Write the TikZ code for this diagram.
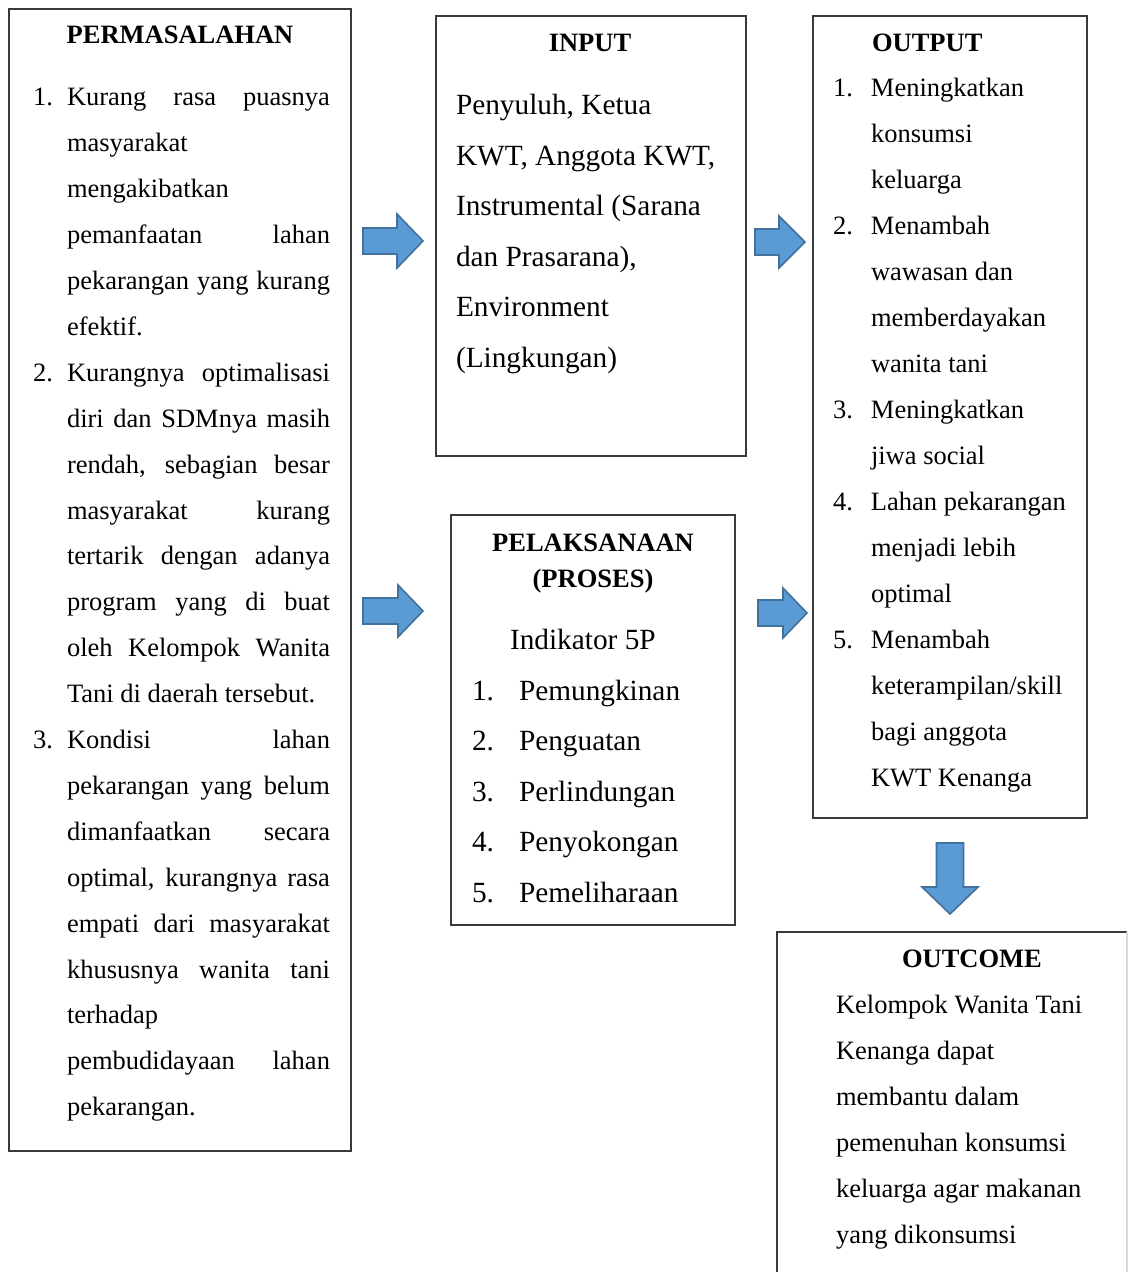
\documentclass[tikz,border=0pt]{standalone}
\usepackage{fontspec}
\setmainfont{Liberation Serif}
\newlength\PX \setlength\PX{0.5pt}
\newcommand\fs{\fontsize{13.25pt}{22.95pt}\selectfont}
\newcommand\fl{\fontsize{14.65pt}{25.25pt}\selectfont}
\newcommand\J[1]{\makebox[263\PX][s]{#1}}
\newcommand\Nm[2]{\makebox[#1\PX][l]{#2}}
\newcommand\Ind[1]{\hspace*{#1\PX}}
\definecolor{afill}{HTML}{5B9BD5}
\definecolor{aline}{HTML}{41719C}
\definecolor{bline}{HTML}{3A3A3A}
\newcommand\rarr[6]{%
  \filldraw[barrow] (#1,#4-#5) -- (#2,#4-#5) -- (#2,#4-#6) -- (#3,#4) -- (#2,#4+#6) -- (#2,#4+#5) -- (#1,#4+#5) -- cycle;}
\begin{document}
\begin{tikzpicture}[x=0.5pt,y=-0.5pt,
  box/.style={draw=bline, line width=0.75pt, inner sep=0pt, outer sep=0pt, anchor=north west, rectangle},
  txt/.style={inner sep=0pt, outer sep=0pt, anchor=base west},
  ttl/.style={inner sep=0pt, outer sep=0pt, anchor=base, font=\fs\bfseries},
  barrow/.style={fill=afill, draw=aline, line width=0.8pt, line join=miter}]
\fill[white] (0,0) rectangle (1128,1272);
\clip[use as bounding box] (0,0) rectangle (1128,1272);

% boxes
\node[box, minimum width=171pt, minimum height=571pt] (perm) at (9,9) {};
\node[box, minimum width=155pt, minimum height=220pt] (input) at (436,16) {};
\node[box, minimum width=137pt, minimum height=401pt] (output) at (813,16) {};
\node[box, minimum width=142pt, minimum height=205pt] (pel) at (451,515) {};
\node[inner sep=0pt, outer sep=0pt, anchor=north west, minimum width=175pt, minimum height=234pt] (outcome) at (777,932) {};
\draw[bline, line width=0.75pt] (outcome.south west) -- (outcome.north west) -- (outcome.north east);
\draw[black!15, line width=0.75pt] (outcome.north east) -- (outcome.south east);

% PERMASALAHAN
\node[ttl] (permtitle) at (180,44) {PERMASALAHAN};
\node[txt] (permtext) at (33,106) {\parbox[t]{297\PX}{\fs
\Nm{34}{1.}\J{Kurang rasa puasnya}\\
\Ind{34}masyarakat\\
\Ind{34}mengakibatkan\\
\Ind{34}\J{pemanfaatan lahan}\\
\Ind{34}\J{pekarangan yang kurang}\\
\Ind{34}efektif.\\
\Nm{34}{2.}\J{Kurangnya optimalisasi}\\
\Ind{34}\J{diri dan SDMnya masih}\\
\Ind{34}\J{rendah, sebagian besar}\\
\Ind{34}\J{masyarakat kurang}\\
\Ind{34}\J{tertarik dengan adanya}\\
\Ind{34}\J{program yang di buat}\\
\Ind{34}\J{oleh Kelompok Wanita}\\
\Ind{34}Tani di daerah tersebut.\\
\Nm{34}{3.}\J{Kondisi lahan}\\
\Ind{34}\J{pekarangan yang belum}\\
\Ind{34}\J{dimanfaatkan secara}\\
\Ind{34}\J{optimal, kurangnya rasa}\\
\Ind{34}\J{empati dari masyarakat}\\
\Ind{34}\J{khususnya wanita tani}\\
\Ind{34}terhadap\\
\Ind{34}\J{pembudidayaan lahan}\\
\Ind{34}pekarangan.}};

% INPUT
\node[ttl] (inputtitle) at (590,52) {INPUT};
\node[txt] (inputtext) at (456,115) {\parbox[t]{145pt}{\fl
Penyuluh, Ketua\\
KWT, Anggota KWT,\\
Instrumental (Sarana\\
dan Prasarana),\\
Environment\\
(Lingkungan)}};

% OUTPUT
\node[ttl, anchor=base west] (outputtitle) at (872,52) {OUTPUT};
\node[txt] (outputtext) at (833,97) {\parbox[t]{125pt}{\fs\setlength\baselineskip{23pt}
\Nm{38}{1.}Meningkatkan\\
\Ind{38}konsumsi\\
\Ind{38}keluarga\\
\Nm{38}{2.}Menambah\\
\Ind{38}wawasan dan\\
\Ind{38}memberdayakan\\
\Ind{38}wanita tani\\
\Nm{38}{3.}Meningkatkan\\
\Ind{38}jiwa social\\
\Nm{38}{4.}Lahan pekarangan\\
\Ind{38}menjadi lebih\\
\Ind{38}optimal\\
\Nm{38}{5.}Menambah\\
\Ind{38}keterampilan/skill\\
\Ind{38}bagi anggota\\
\Ind{38}KWT Kenanga}};

% PELAKSANAAN
\node[ttl] (peltitle) at (593,551) {PELAKSANAAN};
\node[ttl] (peltitleb) at (593,587) {(PROSES)};
\node[txt] (pelind) at (510,649) {\fl Indikator 5P};
\node[txt] (peltext) at (472,700) {\parbox[t]{125pt}{\fl
\Nm{47}{1.}Pemungkinan\\
\Nm{47}{2.}Penguatan\\
\Nm{47}{3.}Perlindungan\\
\Nm{47}{4.}Penyokongan\\
\Nm{47}{5.}Pemeliharaan}};

% OUTCOME
\node[ttl, anchor=base west] (outcometitle) at (902,967) {OUTCOME};
\node[txt] (outcometext) at (836,1013) {\parbox[t]{140pt}{\fs\setlength\baselineskip{23pt}
Kelompok Wanita Tani\\
Kenanga dapat\\
membantu dalam\\
pemenuhan konsumsi\\
keluarga agar makanan\\
yang dikonsumsi}};

% block arrows
\rarr{363}{397}{423}{241}{13}{27}
\rarr{363}{398}{423}{611}{13}{26}
\rarr{755}{779}{805}{242}{13}{26}
\rarr{758}{783}{807}{613}{13}{25}
\filldraw[barrow] (936.5,843) -- (963.5,843) -- (963.5,887) -- (978,887) -- (950,914) -- (922,887) -- (936.5,887) -- cycle;
\end{tikzpicture}
\end{document}
